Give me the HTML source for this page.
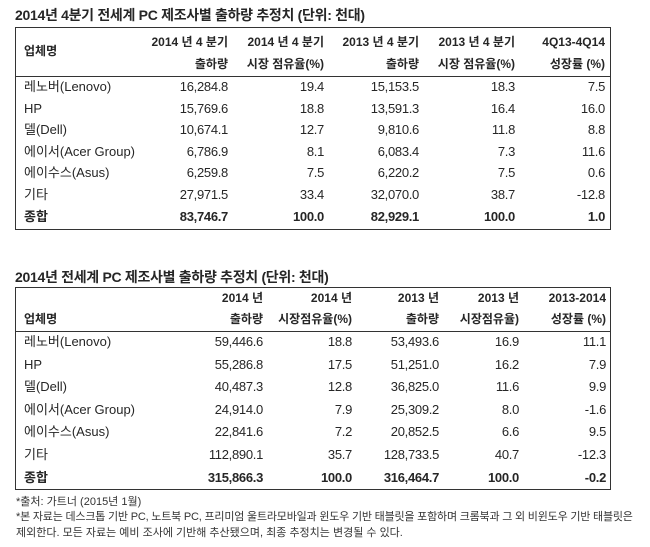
<!DOCTYPE html>
<html><head><meta charset="utf-8"><style>
body{margin:0;width:650px;height:547px;background:#fff;position:relative;overflow:hidden;font-family:"Liberation Sans","Noto Sans CJK KR",sans-serif;color:#262626}
.t{position:absolute;white-space:nowrap;font-size:13px;line-height:16px}
.r{text-align:right}
.b{font-weight:bold}
.title{position:absolute;font-weight:bold;font-size:14px;left:15px;white-space:nowrap;line-height:16px;letter-spacing:-0.3px}
.box{position:absolute;border:1px solid #333;left:15px;width:594px}
.sep{position:absolute;left:15px;width:596px;height:1px;background:#333}
.f{position:absolute;left:16px;font-size:11px;white-space:nowrap;line-height:14px;color:#333}
</style></head><body>
<div class="title" style="top:7px">2014년 4분기 전세계 PC 제조사별 출하량 추정치 (단위: 천대)</div>
<div class="box" style="top:27px;height:201px"></div>
<div class="sep" style="top:76px"></div>
<div id="t1"></div>
<div class="title" style="top:269px">2014년 전세계 PC 제조사별 출하량 추정치 (단위: 천대)</div>
<div class="box" style="top:287px;height:201px"></div>
<div class="sep" style="top:331px"></div>
<div id="t2"></div>
<div class="f" style="top:495px">*출처: 가트너 (2015년 1월)</div>
<div class="f" style="top:510px;letter-spacing:-0.2px">*본 자료는 데스크톱 기반 PC, 노트북 PC, 프리미엄 울트라모바일과 윈도우 기반 태블릿을 포함하며 크롬북과 그 외 비윈도우 기반 태블릿은</div>
<div class="f" style="top:526px">제외한다. 모든 자료는 예비 조사에 기반해 추산됐으며, 최종 추정치는 변경될 수 있다.</div>
<script>
function build(id,rights,h1,h2,hy1,hy2,namey,rows,y0,pitch){
 var s='';
 s+='<div class="t b" style="left:24px;top:'+(namey-8)+'px;font-size:12px">업체명</div>';
 for(var i=0;i<5;i++){
  s+='<div class="t r b" style="right:'+(650-rights[i])+'px;top:'+(hy1-8)+'px;font-size:12px">'+h1[i]+'</div>';
  s+='<div class="t r b" style="right:'+(650-rights[i])+'px;top:'+(hy2-8)+'px;font-size:12px">'+h2[i]+'</div>';
 }
 for(var r=0;r<rows.length;r++){
  var y=Math.round(y0+pitch*r-8), bold=r==rows.length-1?' b':'';
  s+='<div class="t'+bold+'" style="left:24px;top:'+y+'px">'+rows[r][0]+'</div>';
  for(var i=0;i<5;i++) s+='<div class="t r'+bold+'" style="right:'+(650-rights[i])+'px;top:'+y+'px;letter-spacing:-0.3px">'+rows[r][i+1]+'</div>';
 }
 document.getElementById(id).innerHTML=s;
}
build('t1',[228,324,419,515,605],
 ['2014 년 4 분기','2014 년 4 분기','2013 년 4 분기','2013 년 4 분기','4Q13-4Q14'],
 ['출하량','시장 점유율(%)','출하량','시장 점유율(%)','성장률 (%)'],42,64,51,
 [['레노버(Lenovo)','16,284.8','19.4','15,153.5','18.3','7.5'],
  ['HP','15,769.6','18.8','13,591.3','16.4','16.0'],
  ['델(Dell)','10,674.1','12.7','9,810.6','11.8','8.8'],
  ['에이서(Acer Group)','6,786.9','8.1','6,083.4','7.3','11.6'],
  ['에이수스(Asus)','6,259.8','7.5','6,220.2','7.5','0.6'],
  ['기타','27,971.5','33.4','32,070.0','38.7','-12.8'],
  ['종합','83,746.7','100.0','82,929.1','100.0','1.0']],87,21.6);
build('t2',[263,352,439,519,606],
 ['2014 년','2014 년','2013 년','2013 년','2013-2014'],
 ['출하량','시장점유율(%)','출하량','시장점유율)','성장률 (%)'],298,319,319,
 [['레노버(Lenovo)','59,446.6','18.8','53,493.6','16.9','11.1'],
  ['HP','55,286.8','17.5','51,251.0','16.2','7.9'],
  ['델(Dell)','40,487.3','12.8','36,825.0','11.6','9.9'],
  ['에이서(Acer Group)','24,914.0','7.9','25,309.2','8.0','-1.6'],
  ['에이수스(Asus)','22,841.6','7.2','20,852.5','6.6','9.5'],
  ['기타','112,890.1','35.7','128,733.5','40.7','-12.3'],
  ['종합','315,866.3','100.0','316,464.7','100.0','-0.2']],342,22.6);
</script>
</body></html>
